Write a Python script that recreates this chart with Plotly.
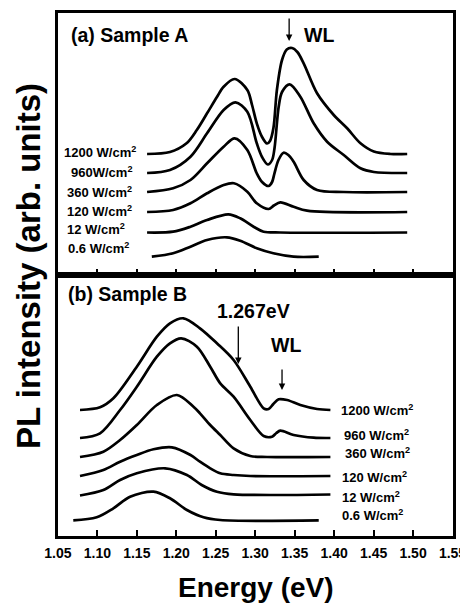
import plotly.graph_objects as go

# ---------------- data ----------------
power_labels_a = ["1200 W/cm<sup>2</sup>", "960W/cm<sup>2</sup>", "360 W/cm<sup>2</sup>",
                  "120 W/cm<sup>2</sup>", "12 W/cm<sup>2</sup>", "0.6 W/cm<sup>2</sup>"]
power_labels_b = ["1200 W/cm<sup>2</sup>", "960 W/cm<sup>2</sup>", "360 W/cm<sup>2</sup>",
                  "120 W/cm<sup>2</sup>", "12 W/cm<sup>2</sup>", "0.6 W/cm<sup>2</sup>"]

# Sample A (top panel): vertical offsets (arb. units) used for stacking
offsets_a = [121, 102, 83, 63, 42.5, 18.3]

energy_a_1200 = [1.163, 1.192, 1.213, 1.226, 1.239, 1.2515, 1.260, 1.274, 1.290, 1.296, 1.302,
                 1.3087, 1.315, 1.3187, 1.3231, 1.3275, 1.334, 1.340, 1.3467, 1.3534, 1.3614,
                 1.3784, 1.3995, 1.4165, 1.4334, 1.4503, 1.4715, 1.4926]
intensity_a_1200 = [0, 2, 10.7, 24, 40.7, 57, 67.3, 75, 64, 49, 30.7,
                    17, 10.5, 13, 26, 64, 94, 104.5, 106, 102, 90.7,
                    60.7, 39, 25.7, 10.7, 2.5, 0, 0]

energy_a_960 = [1.163, 1.192, 1.218, 1.239, 1.260, 1.275, 1.290, 1.302, 1.3087, 1.316, 1.3214,
                1.3245, 1.3297, 1.334, 1.3437, 1.3572, 1.3741, 1.3911, 1.4122, 1.4334, 1.4503, 1.4926]
intensity_a_960 = [0, 3, 16.3, 39.7, 63, 70.7, 61.3, 29.7, 16, 8.5, 13,
                   25, 66, 81, 88.7, 76.3, 49.7, 31.3, 18, 4.7, 1, 0]

energy_a_360 = [1.163, 1.196, 1.218, 1.239, 1.260, 1.274, 1.290, 1.302, 1.3087, 1.317, 1.3214,
                1.3244, 1.3295, 1.336, 1.342, 1.3487, 1.3614, 1.3784, 1.4122, 1.4926]
intensity_a_360 = [0, 3.7, 12, 28.7, 45.3, 53.7, 42, 18.7, 10, 6, 10,
                   18.7, 32, 39.3, 37, 30.3, 12, 2, 0, 0]

energy_a_120 = [1.163, 1.196, 1.218, 1.239, 1.260, 1.273, 1.290, 1.302, 1.317, 1.3237,
                1.3318, 1.3487, 1.3657, 1.4926]
intensity_a_120 = [0, 2, 8.7, 18.7, 27, 28.7, 20.3, 8.7, 3, 6.5, 9.7, 5.3, 1.3, 0]

energy_a_12 = [1.163, 1.196, 1.218, 1.239, 1.266, 1.281, 1.298, 1.3107, 1.3318, 1.4926]
intensity_a_12 = [0, 0.8, 5.8, 12.5, 18.2, 14.2, 5.8, 0.8, 0, 0]

energy_a_06 = [1.169, 1.196, 1.218, 1.239, 1.264, 1.281, 1.302, 1.323, 1.3487, 1.3805]
intensity_a_06 = [0, 3.4, 10, 16.7, 19.4, 16, 8.4, 3.4, 0, 0]

# Sample B (bottom panel)
offsets_b = [126, 98, 79, 60, 40.5, 15.7]

energy_b_1200 = [1.078, 1.1034, 1.1203, 1.150, 1.1754, 1.192, 1.209, 1.230, 1.2515, 1.2726,
                 1.2938, 1.3107, 1.317, 1.323, 1.3297, 1.3404, 1.3572, 1.3784, 1.3953]
intensity_b_1200 = [0, 2.7, 11.7, 43.3, 73.3, 86.7, 91.7, 81.7, 66.7, 50,
                    23.3, 1.7, 1, 6, 10.7, 10, 5, 1, 0]

energy_b_960 = [1.078, 1.1034, 1.1288, 1.150, 1.1754, 1.192, 1.2062, 1.2261, 1.2430, 1.2557,
                1.2726, 1.2938, 1.3107, 1.3213, 1.3268, 1.3318, 1.3487, 1.3741, 1.3953]
intensity_b_960 = [0, 4.7, 28, 51.3, 81.3, 94.7, 99.7, 91.3, 71.3, 54.7,
                   41.3, 18, 2, 1.3, 5, 7.3, 3, 0.3, 0]

energy_b_360 = [1.078, 1.1076, 1.1288, 1.150, 1.1754, 1.2008, 1.2218, 1.230, 1.243, 1.2557,
                1.2726, 1.2938, 1.315, 1.3953]
intensity_b_360 = [0, 5.3, 17, 32, 52, 62, 50.3, 43.7, 32, 22, 8.7, 1, 0, 0]

energy_b_120 = [1.078, 1.1076, 1.1288, 1.150, 1.1711, 1.1944, 1.218, 1.230, 1.243, 1.2557,
                1.2726, 1.2938, 1.3953]
intensity_b_120 = [0, 6, 14.3, 21, 26.7, 28.7, 21, 14.3, 7.7, 2.7, 1, 0, 0]

energy_b_12 = [1.078, 1.1076, 1.1288, 1.150, 1.1859, 1.2135, 1.2322, 1.2515, 1.2726, 1.3953]
intensity_b_12 = [0, 5.5, 15.5, 22.2, 27.2, 20.5, 10.5, 3.8, 1.2, 1]

energy_b_06 = [1.0695, 1.0992, 1.1203, 1.1415, 1.1711, 1.192, 1.2135, 1.2345, 1.2557, 1.3805]
intensity_b_06 = [0, 3, 12, 23.6, 28.6, 22, 10.3, 3, 0.3, 0]

tick_values = [1.05, 1.10, 1.15, 1.20, 1.25, 1.30, 1.35, 1.40, 1.45, 1.50, 1.55]
tick_labels = ["1.05", "1.10", "1.15", "1.20", "1.25", "1.30", "1.35", "1.40", "1.45", "1.50", "1.55"]

# ---------------- figure ----------------
FONT = "Liberation Sans, Arial, Helvetica, sans-serif"
# The page body has an 8px margin, so the figure is sized to end at the window edge.
W, H, OFF = 460, 595, 8


def px(xs):
    return (xs - OFF) / W


def py(ys):
    return 1 - (ys - OFF) / H


fig = go.Figure()

curves_a = [(energy_a_1200, intensity_a_1200), (energy_a_960, intensity_a_960),
            (energy_a_360, intensity_a_360), (energy_a_120, intensity_a_120),
            (energy_a_12, intensity_a_12), (energy_a_06, intensity_a_06)]
curves_b = [(energy_b_1200, intensity_b_1200), (energy_b_960, intensity_b_960),
            (energy_b_360, intensity_b_360), (energy_b_120, intensity_b_120),
            (energy_b_12, intensity_b_12), (energy_b_06, intensity_b_06)]

for (e, i), off in zip(curves_a, offsets_a):
    fig.add_trace(go.Scatter(x=e, y=[off + v for v in i], mode="lines",
                             line=dict(color="black", width=2.7, shape="spline", smoothing=0.9),
                             xaxis="x2", yaxis="y2", showlegend=False, hoverinfo="skip"))
for (e, i), off in zip(curves_b, offsets_b):
    fig.add_trace(go.Scatter(x=e, y=[off + v for v in i], mode="lines",
                             line=dict(color="black", width=2.7, shape="spline", smoothing=0.9),
                             xaxis="x", yaxis="y", showlegend=False, hoverinfo="skip"))

xdom = [px(57.9), px(452.5)]
ax_common = dict(range=[1.05, 1.55], showgrid=False, zeroline=False, showline=True,
                 linecolor="black", linewidth=2.5, mirror=True, ticks="inside", ticklen=6,
                 tickwidth=2, tickcolor="black", tickvals=tick_values, ticktext=tick_labels,
                 domain=xdom, automargin=False)
ay_common = dict(showgrid=False, zeroline=False, showline=True, linecolor="black",
                 linewidth=2.5, mirror=True, showticklabels=False, ticks="", automargin=False)

fig.update_layout(
    template="none",
    width=W, height=H, margin=dict(l=0, r=0, t=0, b=0, pad=0, autoexpand=False),
    paper_bgcolor="white", plot_bgcolor="white",
    font=dict(family=FONT, color="black"),
    xaxis=dict(**ax_common, anchor="y", showticklabels=True,
               tickfont=dict(family=FONT, size=14, color="black", weight="bold"),
               ticklabelstandoff=2),
    yaxis=dict(**ay_common, range=[0, 261], domain=[py(536), py(275)]),
    xaxis2=dict(**ax_common, anchor="y2", showticklabels=False),
    yaxis2=dict(**ay_common, range=[0, 262], domain=[py(275), py(13)]),
)

anns = []
big = dict(family=FONT, size=19.5, color="black", weight="bold")
small = dict(family=FONT, size=13, color="black", weight="bold")

# panel titles and markers
anns.append(dict(text="(a) Sample A", x=1.0641, y=240, xref="x2", yref="y2",
                 xanchor="left", yanchor="middle", showarrow=False, font=big))
anns.append(dict(text="WL", x=1.3594, y=240, xref="x2", yref="y2",
                 xanchor="left", yanchor="middle", showarrow=False, font=big))
anns.append(dict(text="", x=1.343, y=234, ax=1.343, ay=258, xref="x2", yref="y2",
                 axref="x2", ayref="y2", showarrow=True, arrowhead=2, arrowsize=1,
                 arrowwidth=1.3, arrowcolor="black"))

anns.append(dict(text="(b) Sample B", x=1.0603, y=242, xref="x", yref="y",
                 xanchor="left", yanchor="middle", showarrow=False, font=big))
anns.append(dict(text="1.267eV", x=1.2494, y=225, xref="x", yref="y",
                 xanchor="left", yanchor="middle", showarrow=False, font=big))
anns.append(dict(text="", x=1.2786, y=172, ax=1.2786, ay=211, xref="x", yref="y",
                 axref="x", ayref="y", showarrow=True, arrowhead=2, arrowsize=1,
                 arrowwidth=1.3, arrowcolor="black"))
anns.append(dict(text="WL", x=1.317, y=191, xref="x", yref="y",
                 xanchor="left", yanchor="middle", showarrow=False, font=big))
anns.append(dict(text="", x=1.334, y=146, ax=1.334, ay=168, xref="x", yref="y",
                 axref="x", ayref="y", showarrow=True, arrowhead=2, arrowsize=1,
                 arrowwidth=1.3, arrowcolor="black"))

# power labels
label_x_a = [1.0552, 1.0641, 1.0586, 1.0586, 1.059, 1.0607]
label_y_a = [123.3, 103.3, 83.3, 64.3, 45.7, 26.7]
for t, lx, ly in zip(power_labels_a, label_x_a, label_y_a):
    anns.append(dict(text=t, x=lx, y=ly, xref="x2", yref="y2", xanchor="left",
                     yanchor="middle", showarrow=False, font=small))
label_x_b = [1.4058, 1.4102, 1.4114, 1.408, 1.408, 1.408]
label_y_b = [126, 101, 82.7, 59.3, 39.3, 21]
for t, lx, ly in zip(power_labels_b, label_x_b, label_y_b):
    anns.append(dict(text=t, x=lx, y=ly, xref="x", yref="y", xanchor="left",
                     yanchor="middle", showarrow=False, font=small))

# axis titles
anns.append(dict(text="Energy (eV)", x=px(255.8), y=py(587), xref="paper", yref="paper",
                 xanchor="center", yanchor="middle", showarrow=False,
                 font=dict(family=FONT, size=28, color="black", weight="bold")))
anns.append(dict(text="PL intensity (arb. units)", x=px(28.5), y=py(266.5),
                 xref="paper", yref="paper", xanchor="center", yanchor="middle",
                 textangle=-90, showarrow=False,
                 font=dict(family=FONT, size=33, color="black", weight="bold")))

fig.update_layout(annotations=anns)
fig.write_html("out.html")
